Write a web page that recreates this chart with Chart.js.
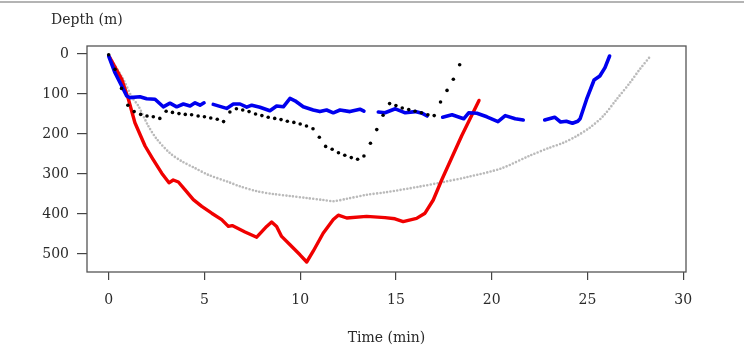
<!DOCTYPE html>
<html>
<head>
<meta charset="utf-8">
<script src="https://cdn.jsdelivr.net/npm/chart.js@4/dist/chart.umd.min.js"></script>
<style>
  html, body { margin: 0; padding: 0; background: #fff; }
  #wrap { width: 744px; height: 352px; }
</style>
</head>
<body>
<div id="wrap"><canvas id="dive" width="744" height="352"></canvas></div>
<script>
// dive profiles, time in minutes, depth in metres
const redTime = [0.05, 0.68, 1.03, 1.37, 1.9, 2.3, 2.77, 3.15, 3.37, 3.64, 3.98, 4.42, 4.86, 5.38, 5.9, 6.25, 6.45, 7.12, 7.73, 8.25, 8.51, 8.77, 9.03, 9.47, 9.99, 10.34, 10.68, 11.2, 11.73, 11.99, 12.43, 13.47, 14.43, 14.95, 15.38, 16.08, 16.52, 16.95, 17.39, 17.91, 18.43, 19.34];
const redDepth = [8, 63, 113, 172, 230, 262, 298, 322, 315, 320, 339, 364, 381, 398, 414, 431, 429, 445, 458, 431, 420, 431, 456, 477, 502, 520, 493, 448, 414, 403, 410, 406, 409, 412, 419, 411, 398, 365, 315, 260, 205, 116];

// null = no record (gap in the trace)
const blueTime = [0, 0.33, 0.68, 0.94, 1.11, 1.63, 1.98, 2.42, 2.85, 3.2, 3.55, 3.9, 4.25, 4.51, 4.77, 4.98, 5.2,
  5.46, 6.16, 6.51, 6.86, 7.21, 7.47, 7.9, 8.42, 8.77, 9.12, 9.47, 9.73, 10.16, 10.68, 11.03, 11.38, 11.73, 12.08, 12.6, 13.12, 13.33, 13.7,
  14.08, 14.43, 14.97, 15.49, 16.01, 16.36, 16.63, 17.0,
  17.44, 17.93, 18.54, 18.8, 19.23, 19.75, 20.33, 20.71, 21.23, 21.65, 22.2,
  22.77, 23.29, 23.6, 23.9, 24.22, 24.5, 24.62, 24.96, 25.35, 25.65, 25.92, 26.16];
const blueDepth = [5, 47, 80, 105, 109, 107, 112, 113, 132, 123, 132, 125, 130, 122, 128, 122, null,
  126, 136, 125, 125, 133, 128, 133, 142, 130, 132, 111, 117, 132, 140, 144, 140, 147, 140, 144, 138, 143, null,
  145, 147, 137, 147, 144, 148, 155, null,
  158, 152, 162, 147, 148, 157, 169, 154, 162, 165, null,
  165, 158, 170, 168, 173, 168, 162, 113, 65, 55, 34, 5];

const dotTime = [0, 0.33, 0.67, 1, 1.33, 1.67, 2, 2.33, 2.67, 3, 3.33, 3.67, 4, 4.33, 4.67, 5, 5.33, 5.67, 6, 6.33, 6.67, 7, 7.33, 7.67, 8, 8.33, 8.67, 9, 9.33, 9.67, 10, 10.33, 10.67, 11, 11.33, 11.67, 12, 12.33, 12.67, 13, 13.33, 13.67, 14, 14.33, 14.67, 15, 15.33, 15.67, 16, 16.33, 16.67, 17, 17.33, 17.67, 18, 18.33];
const dotDepth = [2, 38, 86, 128, 144, 151, 155, 157, 161, 143, 146, 149, 151, 152, 155, 157, 160, 163, 169, 145, 137, 140, 144, 150, 154, 158, 161, 164, 168, 171, 175, 180, 187, 208, 231, 238, 247, 253, 259, 263, 255, 223, 189, 153, 124, 129, 135, 139, 143, 147, 152, 154, 120, 91, 63, 27];

const greyTime = [0, 0.76, 1.2, 1.55, 2.07, 2.5, 3.2, 3.81, 4.5, 5.2, 6.25, 6.86, 7.73, 8.6, 9.47, 10.34, 11.2, 11.73, 12.43, 13.47, 14.43, 16.17, 17.39, 18.78, 20.5, 22.0, 23.04, 23.74, 24.44, 25.13, 25.83, 26.53, 27.22, 27.74, 28.3];
const greyDepth = [3, 63, 107, 130, 180, 212, 248, 268, 285, 302, 320, 331, 343, 350, 355, 360, 365, 368, 362, 352, 346, 332, 321, 307, 286, 254, 234, 222, 205, 184, 155, 113, 72, 38, 5];

const xTicks = [0, 5, 10, 15, 20, 25, 30];
const yTicks = [0, 100, 200, 300, 400, 500];

const xTitle = "Time (min)";
const yTitle = "Depth (m)";

function pairs(ts, ds) {
  return ts.map((t, i) => ({ x: t, y: ds[i] }));
}

const FONT = "'DejaVu Serif', 'Liberation Serif', serif";

const decor = {
  id: "decor",
  beforeDraw(chart) {
    const ctx = chart.ctx;
    ctx.save();
    ctx.strokeStyle = "#b4b4b4";
    ctx.lineWidth = 2;
    ctx.beginPath();
    ctx.moveTo(0, 2);
    ctx.lineTo(chart.width, 2);
    ctx.stroke();
    ctx.restore();
  },
  afterDraw(chart) {
    const ctx = chart.ctx;
    const a = chart.chartArea;
    ctx.save();
    ctx.strokeStyle = "#555";
    ctx.lineWidth = 1.3;
    ctx.strokeRect(a.left, a.top, a.right - a.left, a.bottom - a.top);
    ctx.fillStyle = "#2a2a2a";
    ctx.font = "14px " + FONT;
    ctx.textBaseline = "middle";
    ctx.textAlign = "left";
    ctx.fillText(yTitle, 51, 20);
    ctx.textAlign = "center";
    ctx.fillText(xTitle, (a.left + a.right) / 2, 338);
    ctx.restore();
  }
};

new Chart(document.getElementById("dive"), {
  type: "scatter",
  data: {
    datasets: [
      {
        label: "dots",
        data: pairs(dotTime, dotDepth),
        pointRadius: 1.8,
        pointBackgroundColor: "#000",
        pointBorderWidth: 0,
        showLine: false
      },
      {
        label: "blue",
        data: pairs(blueTime, blueDepth),
        showLine: true,
        spanGaps: false,
        borderColor: "#0000ee",
        borderWidth: 3.6,
        pointRadius: 0,
        borderCapStyle: "round",
        borderJoinStyle: "round"
      },
      {
        label: "red",
        data: pairs(redTime, redDepth),
        showLine: true,
        borderColor: "#f00000",
        borderWidth: 3.4,
        pointRadius: 0,
        borderCapStyle: "round",
        borderJoinStyle: "round"
      },
      {
        label: "grey",
        data: pairs(greyTime, greyDepth),
        showLine: true,
        tension: 0.3,
        borderColor: "#bababa",
        borderWidth: 2.6,
        borderDash: [0, 3.4],
        borderCapStyle: "round",
        pointRadius: 0
      }
    ]
  },
  options: {
    responsive: false,
    animation: false,
    layout: { padding: { top: 46, right: 58, left: 0, bottom: 0 } },
    plugins: {
      legend: { display: false },
      tooltip: { enabled: false }
    },
    scales: {
      x: {
        type: "linear",
        min: -1.133,
        max: 30.15,
        afterFit(s) { s.height = 80; },
        afterBuildTicks(s) { s.ticks = xTicks.map(v => ({ value: v })); },
        grid: { drawOnChartArea: false, drawTicks: true, tickLength: 8, color: "#444", lineWidth: 1.2 },
        border: { display: false },
        ticks: { color: "#2a2a2a", padding: 12, maxRotation: 0, font: { family: FONT, size: 14 } }
      },
      y: {
        type: "linear",
        reverse: true,
        min: -20,
        max: 545,
        afterFit(s) { s.width = 87; },
        afterBuildTicks(s) { s.ticks = yTicks.map(v => ({ value: v })); },
        grid: { drawOnChartArea: false, drawTicks: true, tickLength: 10, color: "#444", lineWidth: 1.2 },
        border: { display: false },
        ticks: { color: "#2a2a2a", padding: 8, font: { family: FONT, size: 14 } }
      }
    }
  },
  plugins: [decor]
});
</script>
</body>
</html>
